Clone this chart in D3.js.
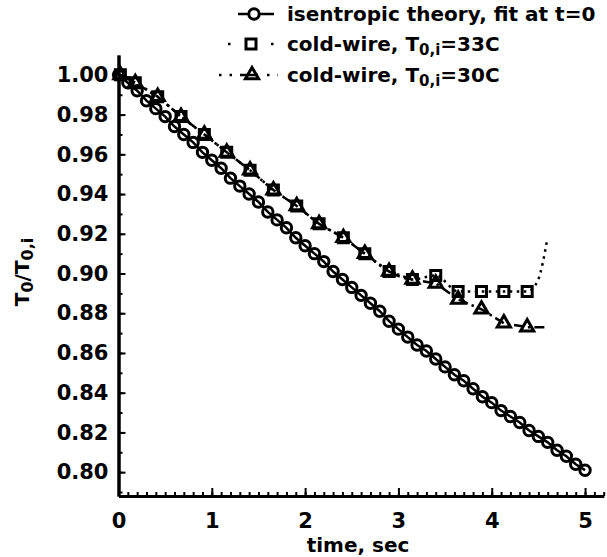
<!DOCTYPE html>
<html>
<head>
<meta charset="utf-8">
<script src="https://cdn.jsdelivr.net/npm/d3@7"></script>
<style>
  body { margin: 0; background: #fff; }
  text { font-family: "DejaVu Sans", sans-serif; font-weight: bold; fill: #000; }
</style>
</head>
<body>
<svg width="607" height="557"></svg>
<script>
// isentropic theory, one circle every 0.1 s
const theoryTime = [0.0, 0.1, 0.2, 0.3, 0.4, 0.5, 0.6, 0.7, 0.8, 0.9,
  1.0, 1.1, 1.2, 1.3, 1.4, 1.5, 1.6, 1.7, 1.8, 1.9,
  2.0, 2.1, 2.2, 2.3, 2.4, 2.5, 2.6, 2.7, 2.8, 2.9,
  3.0, 3.1, 3.2, 3.3, 3.4, 3.5, 3.6, 3.7, 3.8, 3.9,
  4.0, 4.1, 4.2, 4.3, 4.4, 4.5, 4.6, 4.7, 4.8, 4.9, 5.0];
const theoryRatio = [1.000, 0.996, 0.992, 0.987, 0.983, 0.979, 0.974, 0.970, 0.966, 0.961,
  0.957, 0.953, 0.948, 0.944, 0.940, 0.936, 0.931, 0.927, 0.923, 0.918,
  0.914, 0.910, 0.906, 0.901, 0.897, 0.893, 0.889, 0.885, 0.881, 0.876,
  0.872, 0.868, 0.864, 0.861, 0.857, 0.853, 0.849, 0.846, 0.842, 0.838,
  0.835, 0.831, 0.828, 0.825, 0.821, 0.818, 0.815, 0.811, 0.808, 0.804, 0.801];

// cold-wire, T0,i = 33C (squares)
const wire33Time = [0.02, 0.18, 0.42, 0.67, 0.92, 1.16, 1.41, 1.66, 1.91, 2.15, 2.41, 2.64, 2.90, 3.15, 3.40, 3.64, 3.89, 4.13, 4.38];
const wire33Ratio = [1.000, 0.996, 0.989, 0.979, 0.970, 0.961, 0.952, 0.942, 0.934, 0.925, 0.918, 0.910, 0.901, 0.897, 0.899, 0.891, 0.891, 0.891, 0.891];
// the dotted line keeps going past the last square
const wire33TailTime = [4.38, 4.49, 4.55, 4.59];
const wire33TailRatio = [0.891, 0.896, 0.906, 0.916];

// cold-wire, T0,i = 30C (triangles)
const wire30Time = [0.02, 0.18, 0.42, 0.67, 0.92, 1.16, 1.41, 1.66, 1.91, 2.15, 2.41, 2.64, 2.90, 3.15, 3.40, 3.64, 3.89, 4.13, 4.38];
const wire30Ratio = [1.000, 0.996, 0.989, 0.979, 0.970, 0.961, 0.952, 0.942, 0.934, 0.925, 0.918, 0.910, 0.901, 0.897, 0.895, 0.887, 0.882, 0.875, 0.873];
const wire30TailTime = [4.38, 4.58];
const wire30TailRatio = [0.873, 0.873];

const xTicks = [0, 1, 2, 3, 4, 5];
const yTicks = [0.80, 0.82, 0.84, 0.86, 0.88, 0.90, 0.92, 0.94, 0.96, 0.98, 1.00];

const svg = d3.select("svg");

const x = d3.scaleLinear().domain([0, 5.2]).range([118.5, 603.7]);
const y = d3.scaleLinear().domain([0.788, 1.010]).range([496, 55]);

const zip = (t, v) => t.map((d, i) => ({ t: d, v: v[i] }));
const theory = zip(theoryTime, theoryRatio);
const wire33 = zip(wire33Time, wire33Ratio);
const wire30 = zip(wire30Time, wire30Ratio);

const line = d3.line().x(d => x(d.t)).y(d => y(d.v));

// axes - ticks point inward
const xAxis = svg.append("g").attr("transform", `translate(0, ${y(0.788)})`);
xAxis.call(d3.axisBottom(x).tickValues(d3.range(0, 5.21, 0.1)).tickSize(-4).tickSizeOuter(0).tickFormat(""));
xAxis.append("g").call(d3.axisBottom(x).tickValues(xTicks).tickSize(-8).tickSizeOuter(0).tickPadding(14).tickFormat(d3.format("d")));

const yAxis = svg.append("g").attr("transform", `translate(${x(0)}, 0)`);
yAxis.call(d3.axisLeft(y).tickValues(d3.range(0.79, 1.005, 0.01)).tickSize(-4).tickSizeOuter(0).tickFormat(""));
yAxis.append("g").call(d3.axisLeft(y).tickValues(yTicks).tickSize(-7).tickSizeOuter(0).tickPadding(10).tickFormat(d3.format(".2f")));

svg.selectAll(".domain").attr("stroke", "#000").attr("stroke-width", 3);
svg.selectAll(".tick line").attr("stroke", "#000").attr("stroke-width", 2);
svg.selectAll(".tick text").style("font-size", "21px").attr("fill", "#000")
  .style("font-family", "DejaVu Sans").style("font-weight", "bold");
xAxis.selectAll(".tick text").attr("dy", "0.85em");

// axis titles
svg.append("text").attr("x", 358).attr("y", 552).attr("text-anchor", "middle")
  .style("font-size", "20px").text("time, sec");

const yt = svg.append("text").attr("transform", "translate(29, 272) rotate(-90)")
  .attr("text-anchor", "middle").style("font-size", "20px");
yt.append("tspan").text("T");
yt.append("tspan").attr("dy", 4).style("font-size", "16px").text("0");
yt.append("tspan").attr("dy", -4).text("/T");
yt.append("tspan").attr("dy", 4).style("font-size", "16px").text("0,i");

// series
const ink = "#000";
svg.append("path").datum(theory).attr("d", line)
  .attr("fill", "none").attr("stroke", ink).attr("stroke-width", 2.5);
svg.append("g").selectAll("circle").data(theory).join("circle")
  .attr("cx", d => x(d.t)).attr("cy", d => y(d.v)).attr("r", 5.2)
  .attr("fill", "none").attr("stroke", ink).attr("stroke-width", 3);

svg.append("path").datum(wire33.concat(zip(wire33TailTime, wire33TailRatio).slice(1)))
  .attr("d", line.curve(d3.curveMonotoneX))
  .attr("fill", "none").attr("stroke", ink).attr("stroke-width", 2.5)
  .attr("stroke-dasharray", "2.5,4.5");
line.curve(d3.curveLinear);

svg.append("path").datum(wire30.concat(zip(wire30TailTime, wire30TailRatio).slice(1)))
  .attr("d", line)
  .attr("fill", "none").attr("stroke", ink).attr("stroke-width", 2.5)
  .attr("stroke-dasharray", "10,4,2.5,4");

const sq = d3.symbol().type(d3.symbolSquare).size(100);
const tri = d3.symbol().type(d3.symbolTriangle).size(75);

svg.append("g").selectAll("path").data(wire33).join("path")
  .attr("d", sq).attr("transform", d => `translate(${x(d.t)}, ${y(d.v)})`)
  .attr("fill", "none").attr("stroke", ink).attr("stroke-width", 3);
svg.append("g").selectAll("path").data(wire30).join("path")
  .attr("d", tri).attr("transform", d => `translate(${x(d.t)}, ${y(d.v)})`)
  .attr("fill", "none").attr("stroke", ink).attr("stroke-width", 3);

// legend
const legend = svg.append("g");
const rows = [
  { label: ["isentropic theory, fit at t=0"], cy: 14 },
  { label: ["cold-wire, T", "0,i", "=33C"], cy: 44 },
  { label: ["cold-wire, T", "0,i", "=30C"], cy: 75 }
];
legend.append("line").attr("x1", 238).attr("x2", 274).attr("y1", rows[0].cy).attr("y2", rows[0].cy)
  .attr("stroke", ink).attr("stroke-width", 2.5);
legend.append("circle").attr("cx", 254).attr("cy", rows[0].cy).attr("r", 5.2)
  .attr("fill", "#fff").attr("stroke", ink).attr("stroke-width", 3);
legend.append("line").attr("x1", 228).attr("x2", 278).attr("y1", rows[1].cy).attr("y2", rows[1].cy)
  .attr("stroke", ink).attr("stroke-width", 2.5).attr("stroke-dasharray", "2.5,19");
legend.append("path").attr("d", sq).attr("transform", `translate(251, ${rows[1].cy})`)
  .attr("fill", "#fff").attr("stroke", ink).attr("stroke-width", 3);
legend.append("line").attr("x1", 219).attr("x2", 278).attr("y1", rows[2].cy).attr("y2", rows[2].cy)
  .attr("stroke", ink).attr("stroke-width", 2.5).attr("stroke-dasharray", "2.5,8,2.5,8,18,9");
legend.append("path").attr("d", tri).attr("transform", `translate(252, ${rows[2].cy})`)
  .attr("fill", "none").attr("stroke", ink).attr("stroke-width", 3);

rows.forEach(r => {
  const t = legend.append("text").attr("x", 287).attr("y", r.cy + 7).style("font-size", "20px");
  t.append("tspan").text(r.label[0]);
  if (r.label.length > 1) {
    t.append("tspan").attr("dy", 4).style("font-size", "15px").text(r.label[1]);
    t.append("tspan").attr("dy", -4).text(r.label[2]);
  }
});
</script>
</body>
</html>
